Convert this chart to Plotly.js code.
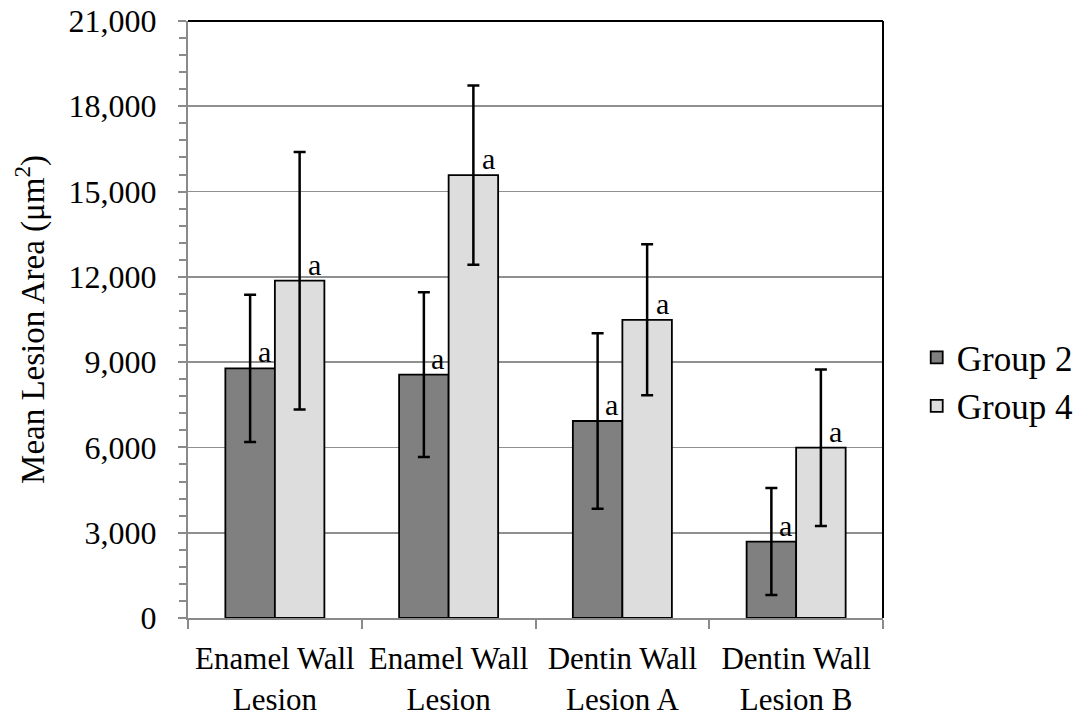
<!DOCTYPE html>
<html>
<head>
<meta charset="utf-8">
<script src="https://cdn.plot.ly/plotly-3.0.1.min.js"></script>
<style>html,body{margin:0;padding:0;background:#fff;}#chart{width:1089px;height:722px;}</style>
</head>
<body>
<div id="chart"></div>
<script>
const categories = ["Enamel Wall<br>Lesion", "Enamel Wall<br>Lesion", "Dentin Wall<br>Lesion A", "Dentin Wall<br>Lesion B"];
const group2Values = [8780, 8560, 6930, 2690];
const group2Errors = [2590, 2900, 3085, 1880];
const group4Values = [11865, 15580, 10490, 5990];
const group4Errors = [4530, 3150, 2655, 2750];
const sigLabels2 = ["a", "a", "a", "a"];
const sigLabels4 = ["a", "a", "a", "a"];
const yTicks = [0, 3000, 6000, 9000, 12000, 15000, 18000, 21000];

const FONT = "Liberation Serif";
const idx = categories.map((_, i) => i);
const boundaries = idx.map(i => i - 0.5).concat([idx.length - 0.5]);

const traces = [
  {
    type: "bar", name: "Group 2", x: idx, y: group2Values,
    marker: {color: "#808080", line: {color: "#000", width: 1.8}},
    error_y: {type: "data", array: group2Errors, visible: true, color: "#000", thickness: 2.5, width: 6}
  },
  {
    type: "bar", name: "Group 4", x: idx, y: group4Values,
    marker: {color: "#dddddd", line: {color: "#000", width: 1.8}},
    error_y: {type: "data", array: group4Errors, visible: true, color: "#000", thickness: 2.5, width: 6}
  }
];

const bargap = 0.43;
const barW = (1 - bargap) / 2;
const annotations = [];
idx.forEach(i => {
  annotations.push({x: i - barW / 2, y: group2Values[i], xref: "x", yref: "y", text: sigLabels2[i],
    showarrow: false, xanchor: "center", yanchor: "bottom", xshift: 14, yshift: -2,
    font: {family: FONT, size: 30, color: "#000"}});
  annotations.push({x: i + barW / 2, y: group4Values[i], xref: "x", yref: "y", text: sigLabels4[i],
    showarrow: false, xanchor: "center", yanchor: "bottom", xshift: 15, yshift: -2,
    font: {family: FONT, size: 30, color: "#000"}});
});

const layout = {
  width: 1089, height: 722,
  margin: {l: 188, r: 205, t: 21, b: 104, pad: 0},
  paper_bgcolor: "#fff", plot_bgcolor: "#fff",
  font: {family: FONT, color: "#000", size: 30},
  barmode: "group", bargap: bargap, bargroupgap: 0,
  showlegend: true,
  legend: {x: 1.047, y: 0.396, xanchor: "left", yanchor: "middle",
    font: {family: FONT, size: 35, color: "#000"}, tracegroupgap: 0, itemwidth: 30, bgcolor: "rgba(0,0,0,0)"},
  xaxis: {
    range: [-0.5, 3.5], tickmode: "array", tickvals: idx, ticktext: categories,
    ticks: "outside", ticklen: 9, tickwidth: 2, tickcolor: "rgba(0,0,0,0)",
    minor: {tickmode: "array", tickvals: boundaries, ticks: "outside", ticklen: 9, tickwidth: 2, tickcolor: "#8a8a8a", showgrid: false},
    showline: true, linecolor: "#8a8a8a", linewidth: 2, showgrid: false, zeroline: false,
    ticklabelstandoff: 3,
    tickfont: {family: FONT, size: 31, color: "#000"}, fixedrange: true
  },
  yaxis: {
    range: [0, 21000], tickmode: "array", tickvals: yTicks, tickformat: ",d",
    ticks: "outside", ticklen: 8, tickwidth: 2, tickcolor: "#8a8a8a",
    minor: {dtick: 600, ticks: "outside", ticklen: 7, tickwidth: 2, tickcolor: "#8a8a8a", showgrid: false},
    showline: true, linecolor: "#8a8a8a", linewidth: 2,
    showgrid: true, gridcolor: "#8f8f8f", gridwidth: 1.6, zeroline: false,
    ticklabelstandoff: 15,
    tickfont: {family: FONT, size: 32, color: "#000"},
    title: {text: "Mean Lesion Area (μm<sup>2</sup>)", font: {family: FONT, size: 33, color: "#000"}, standoff: 14},
    automargin: false, fixedrange: true
  },
  shapes: [
    {type: "line", xref: "paper", yref: "paper", x0: 0, x1: 1, y0: 1, y1: 1, line: {color: "#000", width: 2}},
    {type: "line", xref: "paper", yref: "paper", x0: 1, x1: 1, y0: 0, y1: 1, line: {color: "#000", width: 2}}
  ],
  annotations: annotations
};

Plotly.newPlot("chart", traces, layout, {displayModeBar: false, staticPlot: true});
</script>
</body>
</html>
